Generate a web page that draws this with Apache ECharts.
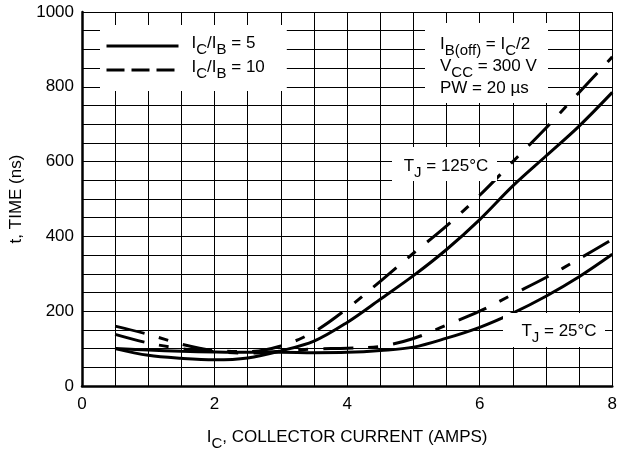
<!DOCTYPE html>
<html>
<head>
<meta charset="utf-8">
<script src="https://cdn.jsdelivr.net/npm/echarts@6/dist/echarts.min.js"></script>
<style>html,body{margin:0;padding:0;background:#fff}#c{width:620px;height:456px}</style>
</head>
<body>
<div id="c"></div>
<script>
// Collector current (A)
var current = [0.5, 1, 1.5, 2, 2.5, 3, 3.5, 4, 4.5, 5, 5.5, 6, 6.5, 7, 7.5, 8];
// Time (ns)
var solid125 = [100, 82, 74, 70, 75, 94, 120, 170, 232, 295, 365, 445, 535, 615, 695, 785];
var solid25  = [100, 96, 93, 91, 90, 90, 89, 90, 95, 104, 128, 157, 195, 240, 292, 352];
var dash125  = [160, 138, 112, 95, 92, 107, 145, 207, 280, 355, 428, 510, 600, 690, 785, 880];
var dash25   = [138, 115, 100, 92, 88, 93, 99, 101, 106, 127, 163, 200, 245, 290, 340, 392];
var xTickLabels = [0, 2, 4, 6, 8];
var yTickLabels = [0, 200, 400, 600, 800, 1000];
var legendNames = ['IC/IB = 5', 'IC/IB = 10'];
var legendRich = {
  'IC/IB = 5': '{g|}{n|I}{s|C}{n|/I}{s|B}{n| = 5}',
  'IC/IB = 10': '{g|}{n|I}{s|C}{n|/I}{s|B}{n| = 10}'
};

function pairs(xs, ys) { return xs.map(function (x, i) { return [x, ys[i]]; }); }

var FONT = 'Liberation Sans, Arial, Helvetica, sans-serif';
var rich = {
  n: { fontSize: 17, fontFamily: FONT, color: '#000', lineHeight: 22, verticalAlign: 'top' },
  s: { fontSize: 15, fontFamily: FONT, color: '#000', lineHeight: 16, padding: [7, 0, 0, 0], verticalAlign: 'top' },
  g: { width: 8, height: 10 }
};
var DASH = [30, 15, 10, 15];
var chart = echarts.init(document.getElementById('c'), null, { renderer: 'canvas' });

function lineSeries(name, ys, dashed) {
  return {
    type: 'line', name: name, data: pairs(current, ys), smooth: 0.35, symbol: 'none',
    lineStyle: { color: '#000', width: 3, type: dashed ? DASH : 'solid', cap: 'butt' },
    itemStyle: { color: '#000' }, z: 5
  };
}

var splitStyle = { show: true, lineStyle: { color: '#000', width: 1 } };

chart.setOption({
  animation: false,
  backgroundColor: '#fff',
  grid: { left: 82, right: 5, top: 12, bottom: 69, containLabel: false },
  xAxis: {
    type: 'value', min: 0, max: 8, interval: 2,
    axisLine: { show: true, onZero: false, lineStyle: { color: '#000', width: 2.5 } },
    axisTick: { show: false },
    splitLine: splitStyle,
    minorTick: { show: false, splitNumber: 4 },
    minorSplitLine: splitStyle,
    axisLabel: {
      margin: 10, fontSize: 17, fontFamily: FONT, color: '#000',
      formatter: function (v) { return xTickLabels.indexOf(v) >= 0 ? String(v) : ''; }
    },
    name: '{n|I}{s|C}{n|, COLLECTOR CURRENT (AMPS)}',
    nameLocation: 'middle', nameGap: 43,
    nameTextStyle: { rich: rich }
  },
  yAxis: {
    type: 'value', min: 0, max: 1000, interval: 200,
    axisLine: { show: true, onZero: false, lineStyle: { color: '#000', width: 2.5 } },
    axisTick: { show: false },
    splitLine: splitStyle,
    minorTick: { show: false, splitNumber: 4 },
    minorSplitLine: splitStyle,
    axisLabel: {
      margin: 8, fontSize: 17, fontFamily: FONT, color: '#000',
      formatter: function (v) { return yTickLabels.indexOf(v) >= 0 ? String(v) : ''; }
    },
    name: 't, TIME (ns)', nameLocation: 'middle', nameGap: 57,
    nameTextStyle: { fontSize: 17, fontFamily: FONT, color: '#000' }
  },
  legend: {
    left: 100, top: 25, orient: 'vertical', itemGap: 2,
    itemWidth: 72, itemHeight: 14,
    padding: [10, 22, 10, 5],
    backgroundColor: '#fff', borderWidth: 0,
    itemStyle: { color: 'rgba(0,0,0,0)', borderWidth: 0, opacity: 0 },
    data: [
      { name: legendNames[0], lineStyle: { width: 3, type: 'solid', color: '#000' } },
      { name: legendNames[1], lineStyle: { width: 3, type: [18, 7], color: '#000' } }
    ],
    formatter: function (name) { return legendRich[name]; },
    textStyle: { rich: rich }
  },
  graphic: [
    { type: 'rect', z: 10, shape: { x: 425, y: 23, width: 123, height: 80 }, style: { fill: '#fff' } },
    { type: 'text', z: 11, x: 440, y: 36, style: {
        text: '{n|I}{s|B(off)}{n| = I}{s|C}{n|/2}\n{n|V}{s|CC}{n| = 300 V}\n{n|PW = 20 \u00b5s}',
        rich: rich, align: 'left', verticalAlign: 'top' } },
    { type: 'rect', z: 10, shape: { x: 392, y: 147, width: 105, height: 34 }, style: { fill: '#fff' } },
    { type: 'text', z: 11, x: 446, y: 169, style: {
        text: '{n|T}{s|J}{n| = 125\u00b0C}', rich: rich, align: 'center', verticalAlign: 'middle' } },
    { type: 'rect', z: 10, shape: { x: 503, y: 313, width: 102, height: 34 }, style: { fill: '#fff' } },
    { type: 'text', z: 11, x: 559, y: 334, style: {
        text: '{n|T}{s|J}{n| = 25\u00b0C}', rich: rich, align: 'center', verticalAlign: 'middle' } }
  ],
  series: [
    lineSeries(legendNames[0], solid125, false),
    lineSeries(legendNames[0], solid25, false),
    lineSeries(legendNames[1], dash125, true),
    lineSeries(legendNames[1], dash25, true)
  ]
});
</script>
</body>
</html>
